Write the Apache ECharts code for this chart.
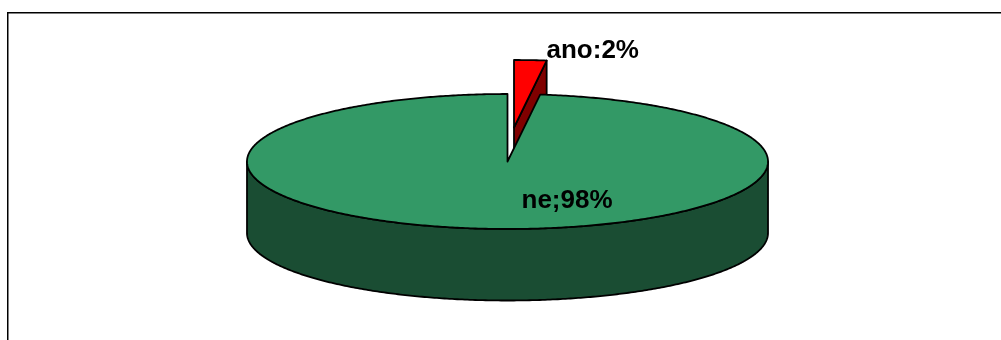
<!DOCTYPE html>
<html>
<head>
<meta charset="utf-8">
<style>html,body{margin:0;padding:0;background:#fff}#chart{width:1001px;height:340px}</style>
<script src="https://cdn.jsdelivr.net/npm/echarts@6/dist/echarts.min.js"></script>
</head>
<body>
<div id="chart"></div>
<script>
// Survey answers, in percent, clockwise from twelve o'clock
const categories = ['ano', 'ne'];
const values = [2, 98];
const labels = ['ano:2%', 'ne;98%'];
const topColors = ['#ff0000', '#339966'];
const wallColors = ['#800000', '#1a4d33'];

// Tilted disc geometry
const cx = 507.5, cy = 161.5, rx = 260.5, ry = 67.5, depth = 71.5;
const explodedOffset = [[6.5, -34], [0, 0]];
const labelAnchors = [[546.5, 51], [521.5, 201]];
const total = values.reduce((a, b) => a + b, 0);

function rimPoint(t, dx, dy, drop) {
  return [cx + dx + rx * Math.sin(t), cy + dy + drop - ry * Math.cos(t)];
}

function arc(from, to, dx, dy, drop) {
  const pts = [];
  const steps = Math.max(2, Math.ceil(Math.abs(to - from) / 0.01));
  for (let i = 0; i <= steps; i++) {
    pts.push(rimPoint(from + (to - from) * i / steps, dx, dy, drop));
  }
  return pts;
}

function renderSlice(params, api) {
  const i = params.dataIndex;
  const before = values.slice(0, i).reduce((a, b) => a + b, 0);
  const start = before / total * Math.PI * 2;
  const end = (before + api.value(0)) / total * Math.PI * 2;
  const [dx, dy] = explodedOffset[i];
  const edge = { stroke: '#000', lineWidth: 1.8, lineJoin: 'round' };
  const children = [];
  const apex = [cx + dx, cy + dy];

  // Outer wall: only the part of the rim facing the viewer
  const wallFrom = Math.max(start, Math.PI / 2);
  const wallTo = Math.min(end, Math.PI * 1.5);
  if (wallTo > wallFrom) {
    const upper = arc(wallFrom, wallTo, dx, dy, 0);
    const lower = arc(wallTo, wallFrom, dx, dy, depth);
    children.push({
      type: 'polygon',
      shape: { points: upper.concat(lower) },
      style: Object.assign({ fill: wallColors[i] }, edge)
    });
  }

  // Cut face on the clockwise side, seen when the slice ends in the back right
  if (end < Math.PI / 2) {
    const rim = rimPoint(end, dx, dy, 0);
    children.push({
      type: 'polygon',
      shape: { points: [apex, rim, [rim[0], rim[1] + depth], [apex[0], apex[1] + depth]] },
      style: Object.assign({ fill: wallColors[i] }, edge)
    });
  }

  // Top face
  children.push({
    type: 'polygon',
    shape: { points: [apex].concat(arc(start, end, dx, dy, 0)) },
    style: Object.assign({ fill: topColors[i] }, edge)
  });

  return { type: 'group', children };
}

// Labels are drawn last so the disc never covers them
function renderLabel(params) {
  const i = params.dataIndex;
  return {
    type: 'text',
    style: {
      text: labels[i],
      x: labelAnchors[i][0],
      y: labelAnchors[i][1],
      textAlign: 'left',
      textVerticalAlign: 'middle',
      fill: '#000',
      font: 'bold 26px "Liberation Sans", Arial, sans-serif'
    }
  };
}

const chart = echarts.init(document.getElementById('chart'), null, { renderer: 'canvas' });
chart.setOption({
  animation: false,
  backgroundColor: '#ffffff',
  tooltip: { show: false },
  graphic: [{
    type: 'polyline',
    silent: true,
    shape: { points: [[7.75, 340], [7.75, 12.75], [1001, 12.75]] },
    style: { stroke: '#000', lineWidth: 1.5, fill: null }
  }],
  series: [
    {
      type: 'custom',
      coordinateSystem: 'none',
      silent: true,
      renderItem: renderSlice,
      data: categories.map((name, i) => ({ name, value: [values[i]] }))
    },
    {
      type: 'custom',
      coordinateSystem: 'none',
      silent: true,
      z: 5,
      renderItem: renderLabel,
      data: categories.map((name, i) => ({ name, value: [values[i]] }))
    }
  ]
});
</script>
</body>
</html>
